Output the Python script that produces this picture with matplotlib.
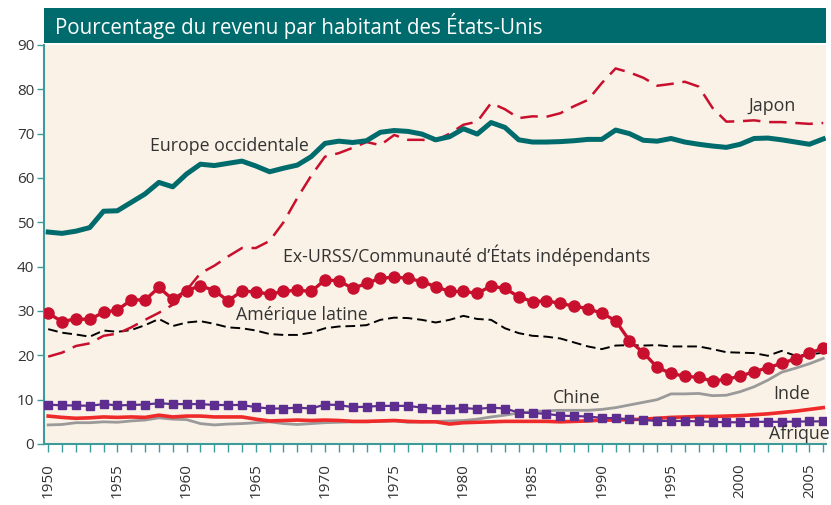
import numpy as np
import matplotlib
matplotlib.use("Agg")
import matplotlib.pyplot as plt
from matplotlib.patches import Rectangle

plt.rcParams['font.family'] = ['Open Sans', 'DejaVu Sans']

# Pourcentage du revenu par habitant des Etats-Unis, 1950-2006
years = np.arange(1950, 2007)

europe = [47.8, 47.5, 48.0, 48.8, 52.5, 52.6, 54.5, 56.4, 59.0, 58.0,
          60.9, 63.1, 62.8, 63.3, 63.8, 62.7, 61.4, 62.2, 62.9, 64.8,
          67.8, 68.3, 68.0, 68.4, 70.3, 70.7, 70.5, 69.9, 68.6, 69.3,
          71.1, 69.9, 72.5, 71.4, 68.6, 68.1, 68.1, 68.2, 68.4, 68.7,
          68.7, 70.8, 70.0, 68.5, 68.3, 68.9, 68.1, 67.6, 67.2, 66.9,
          67.6, 68.9, 69.0, 68.6, 68.1, 67.6, 68.8]

japon = [19.7, 20.6, 22.1, 22.7, 24.4, 24.9, 26.3, 28.0, 29.6, 31.4,
         34.7, 38.5, 40.2, 42.3, 44.2, 44.2, 45.8, 50.0, 55.5, 60.5,
         64.8, 65.6, 66.8, 68.1, 67.4, 69.7, 68.6, 68.6, 68.4, 70.0,
         72.0, 72.7, 76.9, 75.5, 73.5, 73.9, 73.8, 74.6, 76.2, 77.6,
         81.4, 84.7, 83.8, 82.6, 80.8, 81.2, 81.7, 80.6, 75.8, 72.7,
         72.8, 73.0, 72.6, 72.6, 72.4, 72.2, 72.4]

ex_urss = [29.5, 27.6, 28.2, 28.1, 29.7, 30.2, 32.5, 32.5, 35.3, 32.6,
           34.6, 35.7, 34.6, 32.3, 34.5, 34.3, 33.8, 34.4, 34.7, 34.4,
           37.0, 36.8, 35.1, 36.2, 37.4, 37.6, 37.4, 36.6, 35.5, 34.4,
           34.4, 34.0, 35.6, 35.1, 33.2, 32.1, 32.3, 31.7, 31.1, 30.5,
           29.5, 27.8, 23.3, 20.6, 17.3, 15.9, 15.3, 15.0, 14.2, 14.6,
           15.3, 16.3, 17.2, 18.2, 19.2, 20.5, 21.6]

amerique_latine = [25.9, 25.1, 24.7, 24.2, 25.6, 25.3, 25.7, 26.8, 28.2, 26.6,
                   27.4, 27.7, 27.1, 26.3, 26.1, 25.6, 24.8, 24.6, 24.6, 25.1,
                   26.1, 26.5, 26.6, 26.8, 28.0, 28.5, 28.4, 28.0, 27.4, 28.0,
                   28.9, 28.2, 28.0, 26.1, 25.0, 24.4, 24.2, 23.8, 22.9, 22.0,
                   21.4, 22.2, 22.3, 22.2, 22.3, 22.0, 22.0, 22.0, 21.4, 20.7,
                   20.6, 20.5, 19.9, 21.0, 19.9, 20.2, 20.6]

chine = [4.3, 4.4, 4.8, 4.8, 5.0, 4.9, 5.2, 5.4, 5.9, 5.6,
         5.5, 4.6, 4.3, 4.5, 4.6, 4.8, 5.0, 4.6, 4.4, 4.6,
         4.8, 4.9, 5.0, 5.0, 5.1, 5.2, 4.9, 5.0, 5.1, 5.2,
         5.3, 5.6, 6.1, 6.5, 7.0, 7.3, 7.5, 7.6, 7.6, 7.6,
         7.8, 8.2, 8.8, 9.4, 10.0, 11.3, 11.3, 11.4, 10.9, 11.0,
         11.8, 12.9, 14.4, 16.2, 17.1, 18.1, 19.3]

inde = [6.3, 6.0, 5.8, 5.9, 6.1, 6.0, 6.1, 6.0, 6.5, 6.1,
        6.3, 6.3, 6.1, 6.1, 6.1, 5.6, 5.2, 5.3, 5.4, 5.3,
        5.4, 5.3, 5.1, 5.1, 5.2, 5.3, 5.1, 5.0, 5.0, 4.5,
        4.8, 4.9, 5.0, 5.1, 5.1, 5.1, 5.1, 5.0, 5.1, 5.2,
        5.4, 5.4, 5.5, 5.6, 5.8, 6.0, 6.1, 6.2, 6.2, 6.3,
        6.4, 6.6, 6.8, 7.1, 7.4, 7.8, 8.2]

afrique = [8.9, 8.7, 8.7, 8.6, 9.0, 8.7, 8.8, 8.9, 9.2, 9.0,
           9.0, 9.0, 8.8, 8.8, 8.8, 8.3, 8.0, 8.0, 8.2, 8.0,
           8.9, 8.8, 8.3, 8.4, 8.6, 8.6, 8.6, 8.2, 7.9, 7.9,
           8.1, 7.9, 8.2, 8.0, 7.1, 7.0, 6.8, 6.4, 6.3, 6.2,
           5.9, 5.8, 5.6, 5.4, 5.2, 5.2, 5.2, 5.1, 5.0, 4.9,
           4.9, 5.0, 5.0, 5.0, 5.05, 5.1, 5.1]

title = "Pourcentage du revenu par habitant des États-Unis"
teal = "#006b6c"
axis_col = "#3e9a9b"
text_col = "#333333"

fig = plt.figure(figsize=(8.31, 5.05), dpi=100)
ax = fig.add_axes([0.053, 0.1208, 0.941, 0.7902])
ax.set_facecolor("#faf2e6")

ax.plot(years, chine, color="#9a9a9a", lw=2.0, zorder=2)
ax.plot(years, inde, color="#ee2a2a", lw=2.6, zorder=3)
ax.plot(years, afrique, color="#5d2e8f", lw=1.6, marker="s", ms=5.5, zorder=4)
ax.plot(years, amerique_latine, color="black", lw=1.4, ls=(0, (5, 2.5)), zorder=3)
ax.plot(years, ex_urss, color="#c8102e", lw=2.4, marker="o", ms=8, zorder=5)
ax.plot(years, japon, color="#c8102e", lw=1.8, ls=(0, (7, 3.5)), zorder=4)
ax.plot(years, europe, color=teal, lw=3.6, zorder=6)

ax.set_xlim(1949.7, 2006.2)
ax.set_ylim(0, 90)
ax.set_yticks(np.arange(0, 91, 10))
ax.set_xticks(np.arange(1950, 2006, 5))
ax.set_xticks(np.arange(1950, 2007, 1), minor=True)
ax.tick_params(axis="x", which="both", direction="out", length=6, width=1,
               color=axis_col, labelsize=11, labelcolor=text_col, rotation=90, pad=8)
ax.tick_params(axis="y", direction="out", length=5, width=1,
               color=axis_col, labelsize=11, labelcolor=text_col, pad=2)
for s in ["top", "right"]:
    ax.spines[s].set_visible(False)
for s in ["left", "bottom"]:
    ax.spines[s].set_color(axis_col)
    ax.spines[s].set_linewidth(1.5)

lab = dict(color=text_col, fontsize=12.8, ha="center", va="center", zorder=10)
ax.text(1963.1, 67.2, "Europe occidentale", **lab)
ax.text(2002.3, 76.2, "Japon", **lab)
ax.text(1980.2, 42.6, "Ex-URSS/Communauté d’États indépendants", **lab)
ax.text(1968.3, 29.1, "Amérique latine", **lab)
ax.text(1988.2, 10.4, "Chine", **lab)
ax.text(2003.7, 11.3, "Inde", **lab)
ax.text(2004.3, 2.3, "Afrique", clip_on=False, **lab)

fig.patches.append(Rectangle((0.053, 0.915), 0.941, 0.069, transform=fig.transFigure,
                             facecolor=teal, edgecolor="none", zorder=0))
fig.text(0.066, 0.949, title, color="white", fontsize=14.8, ha="left", va="center")

fig.savefig("out.png", dpi=100)
